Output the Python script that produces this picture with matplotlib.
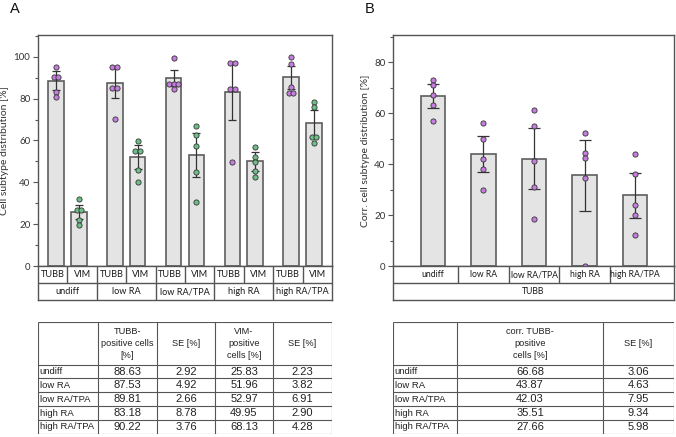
import matplotlib
matplotlib.use('Agg')
import matplotlib.pyplot as plt
import numpy as np

# Groups / conditions
groups = ['undiff', 'low RA', 'low RA/TPA', 'high RA', 'high RA/TPA']
markers = ['TUBB', 'VIM']

# Panel A: means and SE (from table), error bar half-lengths
tubb_mean = [88.63, 87.53, 89.81, 83.18, 90.22]
tubb_se = [2.92, 4.92, 2.66, 8.78, 3.76]
vim_mean = [25.83, 51.96, 52.97, 49.95, 68.13]
vim_se = [2.23, 3.82, 6.91, 2.90, 4.28]
tubb_err = [4.4, 7.4, 4.0, 13.2, 5.6]
vim_err = [3.3, 5.7, 10.4, 4.4, 6.4]

# individual replicate points, panel A
tubb_points = [
    [95.2, 90.4, 90.4, 83.0, 80.6],
    [94.9, 94.9, 85.2, 85.2, 70.4],
    [99.2, 87.0, 87.0, 87.0, 84.4],
    [96.8, 96.8, 84.4, 84.4, 49.8],
    [99.7, 96.5, 85.5, 82.8, 82.8],
]
vim_points = [
    [31.8, 27.0, 27.0, 22.0, 19.6],
    [59.8, 54.9, 54.9, 45.9, 40.1],
    [67.0, 62.5, 57.3, 44.9, 30.4],
    [57.0, 52.0, 49.5, 45.2, 42.5],
    [78.5, 76.1, 61.5, 61.5, 59.0],
]

# Panel B: corrected TUBB
corr_mean = [66.68, 43.87, 42.03, 35.51, 27.66]
corr_se = [3.06, 4.63, 7.95, 9.34, 5.98]
corr_err = [4.6, 7.0, 11.9, 14.0, 9.0]
corr_points = [
    [73.0, 71.0, 67.0, 63.0, 57.0],
    [56.0, 50.0, 42.0, 38.0, 30.0],
    [61.0, 55.0, 41.0, 31.0, 18.5],
    [52.0, 44.5, 42.5, 34.5, 0.0],
    [44.0, 36.0, 24.0, 20.0, 12.0],
]

W, H = 676, 437
PURPLE = '#c77de0'
GREEN = '#6dbf88'
BAR_FACE = '#e4e4e4'
BAR_EDGE = '#5e5e5e'
LINE = '#555555'
TXT = '#1a1a1a'
AX_FONT = ['Lato', 'DejaVu Sans']
TB_FONT = ['Liberation Sans', 'DejaVu Sans']

plt.rcParams['font.family'] = AX_FONT


def box(x0, y0, x1, y1):
    return [x0 / W, 1 - y1 / H, (x1 - x0) / W, (y1 - y0) / H]


def swarm(center, vals, dx, thr):
    # spread points that sit on top of each other side by side
    vals = sorted(vals, reverse=True)
    xs, ys = [], []
    cluster = [vals[0]]
    for v in vals[1:] + [None]:
        if v is not None and abs(cluster[-1] - v) < thr:
            cluster.append(v)
            continue
        n = len(cluster)
        for k, cv in enumerate(cluster):
            xs.append(center + (k - (n - 1) / 2) * dx)
            ys.append(cv)
        if v is not None:
            cluster = [v]
    return xs, ys


def style_axis(ax, ymax, label):
    ax.set_ylim(0, ymax)
    ax.set_xticks([])
    for s in ax.spines.values():
        s.set_color(LINE)
        s.set_linewidth(1.0)
    ax.yaxis.set_major_locator(plt.MultipleLocator(20))
    ax.yaxis.set_minor_locator(plt.MultipleLocator(10))
    ax.tick_params(axis='y', which='major', length=3.5, width=0.8, color=LINE,
                   labelsize=7, pad=2, labelcolor='#333333')
    ax.tick_params(axis='y', which='minor', length=2, width=0.8, color=LINE)
    ax.set_ylabel(label, fontsize=7.5, color='#333333', labelpad=3)


fig = plt.figure(figsize=(W / 100, H / 100), dpi=100)

# ---------------- Panel A ----------------
axA = fig.add_axes(box(38, 35, 332, 266))
gx = np.arange(len(groups))
off, bw = 0.195, 0.265
for xs, means, errs, pts, col in [(gx - off, tubb_mean, tubb_err, tubb_points, PURPLE),
                                   (gx + off, vim_mean, vim_err, vim_points, GREEN)]:
    axA.bar(xs, means, width=bw, color=BAR_FACE, edgecolor=BAR_EDGE, linewidth=1.2, zorder=2)
    axA.errorbar(xs, means, yerr=errs, fmt='none', ecolor='#333333', elinewidth=0.9,
                 capsize=3.0, capthick=0.9, zorder=3)
    for x, p in zip(xs, pts):
        px, py = swarm(x, p, 0.08, 2.2)
        axA.scatter(px, py, s=14, color=col, edgecolor='#333333', linewidth=0.6, zorder=4)
axA.set_xlim(-0.5, len(groups) - 0.5)
style_axis(axA, 110.4, 'Cell subtype distribution [%]')

catA = fig.add_axes(box(38, 266, 332, 300))
catA.set_xlim(-0.5, len(groups) - 0.5)
catA.set_ylim(2, 0)
catA.set_xticks([])
catA.set_yticks([])
for s in catA.spines.values():
    s.set_color(LINE)
    s.set_linewidth(1.0)
catA.axhline(1, color=LINE, lw=1.0)
for g in gx:
    catA.vlines(g, 0, 1, color=LINE, lw=1.0)
    if g > 0:
        catA.vlines(g - 0.5, 0, 2, color=LINE, lw=1.0)
    for k, m in enumerate(markers):
        catA.text(g - 0.25 + 0.5 * k, 0.52, m, ha='center', va='center', fontsize=6.6,
                  color=TXT)
    catA.text(g, 1.52, groups[g], ha='center', va='center', fontsize=6.6, color=TXT)

# ---------------- Panel B ----------------
axB = fig.add_axes(box(393, 35, 674, 266))
bx = np.arange(len(groups))
axB.bar(bx, corr_mean, width=0.48, color=BAR_FACE, edgecolor=BAR_EDGE, linewidth=1.2, zorder=2)
axB.errorbar(bx, corr_mean, yerr=corr_err, fmt='none', ecolor='#333333', elinewidth=0.9,
             capsize=4.6, capthick=0.9, zorder=3)
for x, p in zip(bx, corr_points):
    px, py = swarm(x, p, 0.093, 1.8)
    axB.scatter(px, py, s=14, color=PURPLE, edgecolor='#333333', linewidth=0.6, zorder=4,
                clip_on=False)
axB.set_xlim(-0.79, len(groups) - 1 + 0.77)
style_axis(axB, 90.6, 'Corr. cell subtype distribution [%]')

catB = fig.add_axes(box(393, 266, 674, 300))
catB.set_xlim(-0.79, len(groups) - 1 + 0.77)
catB.set_ylim(2, 0)
catB.set_xticks([])
catB.set_yticks([])
for s in catB.spines.values():
    s.set_color(LINE)
    s.set_linewidth(1.0)
catB.axhline(1, color=LINE, lw=1.0)
for i, g in enumerate(groups):
    if i > 0:
        catB.vlines(i - 0.5, 0, 1, color=LINE, lw=1.0)
    catB.text(i, 0.52, g, ha='center', va='center', fontsize=6.2, color=TXT)
catB.text(np.mean(catB.get_xlim()), 1.52, 'TUBB', ha='center', va='center', fontsize=6.2,
          color=TXT)

# panel letters
fig.text(10 / W, 1 - 13 / H, 'A', fontsize=10.5, family=TB_FONT, color='#111111')
fig.text(365 / W, 1 - 13 / H, 'B', fontsize=10.5, family=TB_FONT, color='#111111')


# ---------------- Tables ----------------
def draw_table(bounds, cols, rows, header, body):
    x0, y0, x1, y1 = bounds
    ax = fig.add_axes(box(x0, y0, x1, y1))
    ax.set_xlim(x0, x1)
    ax.set_ylim(y1, y0)
    ax.axis('off')
    for c in cols:
        ax.vlines(c, rows[0], rows[-1], color=LINE, lw=0.8)
    for r in rows:
        ax.hlines(r, cols[0], cols[-1], color=LINE, lw=0.8)
    for j, h in enumerate(header):
        ax.text((cols[j] + cols[j + 1]) / 2, (rows[0] + rows[1]) / 2, h, ha='center',
                va='center', fontsize=6.6, family=TB_FONT, linespacing=1.45, color='#222222')
    for i, row in enumerate(body):
        yc = (rows[i + 1] + rows[i + 2]) / 2
        for j, cell in enumerate(row):
            if j == 0:
                ax.text(cols[0] + 1.5, yc, cell, ha='left', va='center', fontsize=6.8,
                        family=TB_FONT, color='#222222')
            else:
                ax.text((cols[j] + cols[j + 1]) / 2, yc, cell, ha='center', va='center',
                        fontsize=8, family=TB_FONT, color='#222222')


rowsT = [322, 365, 378.5, 392.3, 406.2, 420, 434]
bodyA = [[g, f'{a:.2f}', f'{b:.2f}', f'{c:.2f}', f'{d:.2f}']
         for g, a, b, c, d in zip(groups, tubb_mean, tubb_se, vim_mean, vim_se)]
draw_table((38, 322, 332, 434), [38, 98, 157, 215, 273, 332], rowsT,
           ['', 'TUBB-\npositive cells\n[%]', 'SE [%]', 'VIM-\npositive\ncells [%]', 'SE [%]'],
           bodyA)

bodyB = [[g, f'{a:.2f}', f'{b:.2f}'] for g, a, b in zip(groups, corr_mean, corr_se)]
draw_table((393, 322, 674, 434), [393, 457, 603, 674], rowsT,
           ['', 'corr. TUBB-\npositive\ncells [%]', 'SE [%]'], bodyB)

fig.savefig('out.png', dpi=100, facecolor='white')
